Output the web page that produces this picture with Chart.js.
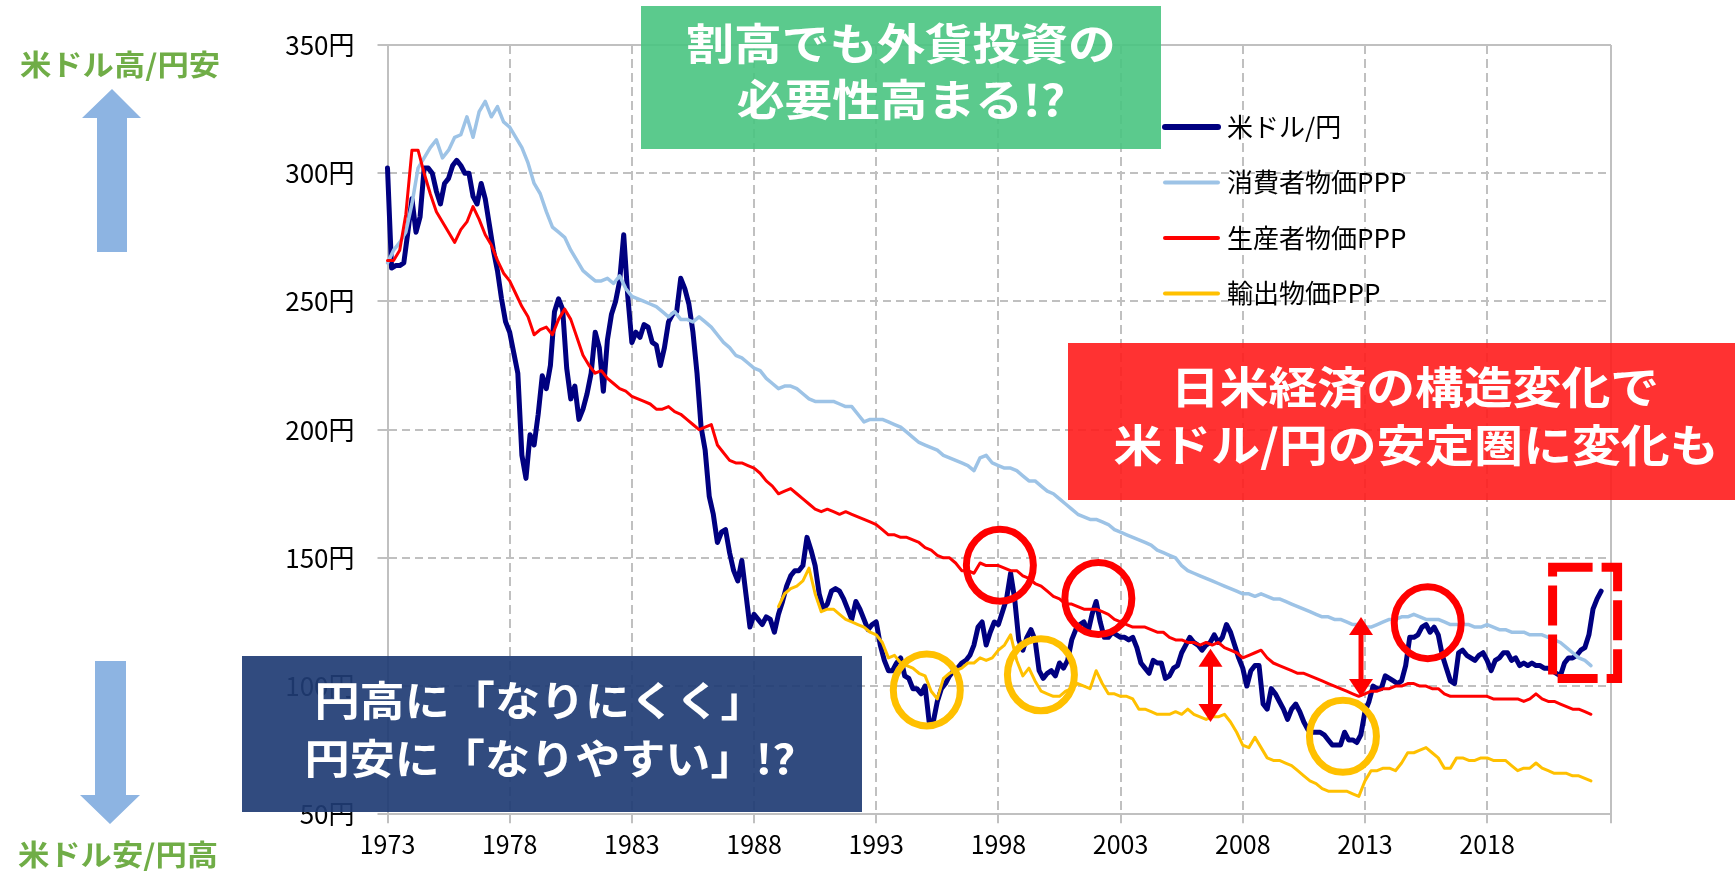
<!DOCTYPE html>
<html lang="ja">
<head>
<meta charset="utf-8">
<title>米ドル/円と購買力平価</title>
<script src="https://cdn.jsdelivr.net/npm/chart.js@4.4.1/dist/chart.umd.min.js"></script>
<style>
  html, body { margin: 0; padding: 0; background: #fff; }
  #wrap { position: relative; width: 1735px; height: 871px; }
</style>
</head>
<body>
<div id="wrap"><canvas id="ppp"></canvas></div>
<script>
// 目盛り
const xTicks = [1973, 1978, 1983, 1988, 1993, 1998, 2003, 2008, 2013, 2018];
const yTicks = [50, 100, 150, 200, 250, 300, 350];
const seriesNames = ['米ドル/円', '消費者物価PPP', '生産者物価PPP', '輸出物価PPP'];

// 米ドル/円 1973年1月から2か月ごと (1,3,5,7,9,11月)
const usdJpy = [
  302, 263, 264, 264, 265, 277,
  290, 277, 283, 302, 302, 300,
  293, 288, 296, 298, 303, 305,
  303, 300, 300, 291, 288, 296,
  290, 280, 270, 262, 251, 242,
  238, 230, 222, 190, 181, 198,
  194, 206, 221, 216, 225, 246,
  251, 247, 224, 212, 217, 204,
  208, 214, 222, 238, 232, 215,
  235, 245, 250, 258, 276, 252,
  234, 238, 236, 241, 240, 234,
  233, 225, 232, 242, 245, 246,
  259, 255, 249, 238, 222, 201,
  192, 174, 167, 156, 160, 161,
  152, 145, 141, 149, 136, 123,
  128, 126, 124, 127, 126, 121,
  128, 133, 139, 143, 145, 145,
  147, 158, 153, 147, 136, 130,
  132, 137, 138, 137, 134, 130,
  126, 133, 130, 126, 122, 124,
  125, 116, 110, 106, 106, 109,
  111, 104, 103, 99, 99, 97,
  100, 86, 86, 94, 99, 101,
  104, 106, 107, 109, 110, 112,
  116, 123, 125, 116, 121, 125,
  124, 129, 134, 144, 134, 118,
  114, 119, 122, 118, 106, 103,
  105, 106, 104, 109, 107, 110,
  118, 122, 124, 125, 121, 128,
  133, 125, 119, 119, 121, 120,
  119, 119, 118, 119, 115, 109,
  107, 105, 110, 109, 109, 103,
  104, 107, 108, 113, 116, 119,
  117, 116, 114, 116, 117, 120,
  117, 119, 124, 121, 116, 111,
  107, 100, 106, 108, 108, 93,
  91, 99, 97, 94, 91, 87,
  91, 93, 90, 86, 83, 82,
  82, 82, 81, 79, 77, 77,
  77, 82, 79, 79, 78, 81,
  90, 94, 100, 99, 99, 104,
  103, 102, 101, 102, 108, 119,
  119, 120, 123, 124, 121, 123,
  120, 112, 107, 102, 101, 113,
  114, 112, 111, 110, 112, 113,
  110, 106, 110, 111, 113, 113,
  110, 111, 108, 109, 108, 109,
  108, 108, 107, 107, 106, 105,
  104, 109, 111, 111, 112, 114,
  115, 120, 130, 134, 137
];

// 消費者物価PPP 1973年1月から四半期ごと
const cpiPpp = [
  265, 270, 273, 277,  288, 302, 306, 310,  313, 306, 309, 314,  315, 322, 314, 324,
  328, 322, 326, 320,  318, 314, 310, 304,  296, 292, 285, 279,  277, 275, 270, 266,
  262, 260, 258, 258,  259, 257, 260, 255,  252, 251, 250, 249,  248, 246, 244, 246,
  243, 243, 242, 244,  242, 240, 237, 234,  232, 229, 228, 226,  224, 223, 220, 218,
  216, 217, 217, 216,  214, 212, 211, 211,  211, 211, 210, 209,  209, 206, 203, 204,
  204, 204, 203, 202,  201, 199, 197, 195,  194, 193, 192, 190,  189, 188, 187, 186,
  184, 189, 190, 187,  186, 185, 185, 184,  182, 180, 180, 178,  176, 175, 173, 171,
  169, 167, 166, 165,  165, 164, 163, 161,  160, 159, 158, 157,  156, 155, 153, 152,
  151, 150, 147, 145,  144, 143, 142, 141,  140, 139, 138, 137,  136, 136, 135, 136,
  135, 134, 134, 133,  132, 131, 130, 129,  128, 127, 127, 126,  126, 125, 124, 124,
  123, 123, 124, 125,  126, 126, 127, 127,  128, 127, 126, 126,  126, 125, 124, 124,
  124, 124, 123, 123,  124, 123, 122, 122,  121, 121, 121, 120,  120, 120, 119, 118,
  117, 115, 113, 111,  110, 108
];

// 生産者物価PPP 1973年1月から四半期ごと
const ppiPpp = [
  266, 266, 270, 284,  309, 309, 300, 292,  285, 281, 277, 273,  278, 281, 287, 282,
  276, 272, 266, 261,  258, 253, 248, 244,  237, 239, 240, 237,  243, 247, 243, 236,
  229, 225, 222, 223,  220, 218, 216, 215,  213, 212, 211, 210,  208, 208, 209, 207,
  206, 204, 202, 200,  201, 202, 194, 191,  188, 187, 187, 186,  185, 183, 180, 178,
  175, 176, 177, 175,  173, 171, 169, 168,  169, 168, 167, 168,  167, 166, 165, 164,
  163, 161, 159, 159,  158, 158, 157, 156,  154, 153, 151, 150,  150, 148, 145, 145,
  144, 148, 147, 147,  147, 146, 145, 145,  143, 142, 140, 139,  137, 135, 134, 132,
  132, 131, 130, 130,  130, 129, 128, 126,  125, 124, 123, 123,  123, 122, 121, 121,
  119, 118, 118, 117,  117, 116, 117, 116,  117, 115, 114, 113,  111, 112, 113, 114,
  111, 109, 108, 107,  106, 105, 105, 104,  103, 102, 101, 100,  99, 98, 97, 96,
  97, 98, 98, 99,  99, 100, 100, 101,  101, 100, 100, 99,  99, 97, 96, 96,
  96, 96, 96, 96,  96, 95, 95, 95,  95, 95, 94, 95,  97, 95, 94, 94,
  93, 92, 91, 91,  90, 89
];

// 輸出物価PPP 1989年1月から四半期ごと
const exportPpp = [
  131, 136, 138, 139,  141, 146, 136, 129,  130, 130, 128, 126,  125, 124, 123, 121,
  120, 117, 111, 112,  109, 108, 107, 105,  104, 98, 95, 103,  105, 106, 107, 109,
  109, 111, 110, 111,  114, 116, 120, 110,  104, 107, 102, 98,  97, 96, 96, 98,
  99, 101, 100, 99,  106, 101, 97, 97,  96, 96, 95, 91,  91, 90, 89, 89,
  89, 90, 89, 91,  89, 88, 87, 88,  88, 89, 86, 82,  77, 76, 80, 76,
  72, 71, 71, 70,  69, 67, 65, 63,  62, 60, 59, 59,  59, 59, 58, 57,
  63, 67, 67, 68,  68, 67, 70, 74,  74, 75, 76, 74,  72, 68, 68, 72,
  72, 71, 71, 72,  72, 71, 71, 71,  69, 67, 68, 68,  70, 68, 67, 66,
  66, 66, 65, 65,  64, 63
];

const FONT = '"Noto Sans CJK JP", "Noto Sans", sans-serif';
const GRID = '#C0C0C0';

function toPoints(values, start, step) {
  return values.map((v, i) => ({ x: start + i * step, y: v }));
}

// 太字テキスト(少し横長)
function wideText(ctx, text, cx, cy, size, color, sx) {
  ctx.save();
  ctx.translate(cx, cy);
  ctx.scale(sx, 1);
  ctx.font = 'bold ' + size + 'px ' + FONT;
  ctx.fillStyle = color;
  ctx.textAlign = 'center';
  ctx.textBaseline = 'middle';
  ctx.fillText(text, 0, 0);
  ctx.restore();
}

function poly(ctx, pts, color) {
  ctx.beginPath();
  ctx.moveTo(pts[0][0], pts[0][1]);
  for (let i = 1; i < pts.length; i++) ctx.lineTo(pts[i][0], pts[i][1]);
  ctx.closePath();
  ctx.fillStyle = color;
  ctx.fill();
}

// 注目箇所 (年, 円)
const redRings = [[1998.06, 147.1], [2002.09, 134.2], [2015.57, 124.7]];
const goldRings = [[1995.07, 98.5], [1999.74, 104.4], [2012.1, 80.4]];
const gapArrows = [[2006.68, 114.6, 86.0], [2012.84, 126.9, 95.7]];
const recentBox = [2020.68, 146.3, 2023.34, 103.0];

const decor = {
  id: 'decor',
  afterDraw(chart) {
    const ctx = chart.ctx;
    const xs = chart.scales.x, ys = chart.scales.y, a = chart.chartArea;
    ctx.save();

    // 右枠
    ctx.strokeStyle = GRID;
    ctx.lineWidth = 2;
    ctx.beginPath();
    ctx.moveTo(a.right, a.top);
    ctx.lineTo(a.right, a.bottom + 9);
    ctx.stroke();

    // 凡例
    chart.data.datasets.forEach((ds, i) => {
      const y = 127 + i * 55.5;
      ctx.strokeStyle = ds.borderColor;
      ctx.lineWidth = i === 0 ? 6 : 4;
      ctx.lineCap = 'round';
      ctx.beginPath();
      ctx.moveTo(1165, y);
      ctx.lineTo(1218, y);
      ctx.stroke();
      ctx.font = '26px ' + FONT;
      ctx.fillStyle = '#000';
      ctx.textAlign = 'left';
      ctx.textBaseline = 'middle';
      ctx.fillText(ds.label, 1227, y);
    });

    // 丸
    ctx.lineWidth = 7;
    ctx.strokeStyle = '#FF0000';
    redRings.forEach(([t, v]) => {
      ctx.beginPath();
      ctx.ellipse(xs.getPixelForValue(t), ys.getPixelForValue(v), 33.5, 36, 0, 0, Math.PI * 2);
      ctx.stroke();
    });
    ctx.strokeStyle = '#FFC000';
    goldRings.forEach(([t, v]) => {
      ctx.beginPath();
      ctx.ellipse(xs.getPixelForValue(t), ys.getPixelForValue(v), 33.5, 36, 0, 0, Math.PI * 2);
      ctx.stroke();
    });

    // 両矢印
    gapArrows.forEach(([t, v1, v2]) => {
      const x = xs.getPixelForValue(t);
      const y1 = ys.getPixelForValue(v1), y2 = ys.getPixelForValue(v2);
      ctx.fillStyle = '#FF0000';
      ctx.fillRect(x - 2.5, y1 + 16, 5, y2 - y1 - 32);
      poly(ctx, [[x, y1], [x + 12, y1 + 18], [x - 12, y1 + 18]], '#FF0000');
      poly(ctx, [[x, y2], [x + 12, y2 - 18], [x - 12, y2 - 18]], '#FF0000');
    });

    // 点線の枠
    const bx1 = xs.getPixelForValue(recentBox[0]), by1 = ys.getPixelForValue(recentBox[1]);
    const bx2 = xs.getPixelForValue(recentBox[2]), by2 = ys.getPixelForValue(recentBox[3]);
    ctx.strokeStyle = '#FF0000';
    ctx.lineWidth = 9;
    ctx.lineCap = 'butt';
    ctx.setLineDash([40, 9]);
    ctx.strokeRect(bx1, by1, bx2 - bx1, by2 - by1);
    ctx.setLineDash([]);

    // 吹き出し
    ctx.fillStyle = 'rgba(73, 196, 129, 0.9)';
    ctx.fillRect(641, 6, 520, 143);
    wideText(ctx, '割高でも外貨投資の', 901, 44, 43, '#fff', 1.11);
    wideText(ctx, '必要性高まる!?', 901, 100, 43, '#fff', 1.11);

    ctx.fillStyle = 'rgba(255, 28, 28, 0.9)';
    ctx.fillRect(1068, 343, 680, 157);
    wideText(ctx, '日米経済の構造変化で', 1415, 387, 44, '#fff', 1.11);
    wideText(ctx, '米ドル/円の安定圏に変化も', 1416, 445, 44, '#fff', 1.11);

    ctx.fillStyle = 'rgba(32, 60, 116, 0.92)';
    ctx.fillRect(242, 656, 620, 156);
    wideText(ctx, '円高に「なりにくく」', 540, 700, 41, '#fff', 1.1);
    wideText(ctx, '円安に「なりやすい」!?', 550, 758, 41, '#fff', 1.1);

    // 左の矢印と説明
    poly(ctx, [[112, 89], [141, 118], [127, 118], [127, 252], [97, 252], [97, 118], [82, 118]], '#8DB4E2');
    poly(ctx, [[95, 661], [126, 661], [126, 795], [140, 795], [110, 824], [80, 795], [95, 795]], '#8DB4E2');
    wideText(ctx, '米ドル高/円安', 120, 65, 29, '#70AD47', 1.08);
    wideText(ctx, '米ドル安/円高', 118, 855, 29, '#70AD47', 1.08);

    ctx.restore();
  }
};

new Chart(document.getElementById('ppp'), {
  type: 'line',
  data: {
    datasets: [
      { label: seriesNames[0], data: toPoints(usdJpy, 1973, 1 / 6), borderColor: '#000080', borderWidth: 5, order: 4, clip: false },
      { label: seriesNames[1], data: toPoints(cpiPpp, 1973, 0.25), borderColor: '#9DC3E6', borderWidth: 3.5, order: 3, clip: false },
      { label: seriesNames[2], data: toPoints(ppiPpp, 1973, 0.25), borderColor: '#FF0000', borderWidth: 3, order: 2, clip: false },
      { label: seriesNames[3], data: toPoints(exportPpp, 1989, 0.25), borderColor: '#FFC000', borderWidth: 3, order: 1, clip: false }
    ]
  },
  options: {
    responsive: true,
    maintainAspectRatio: false,
    animation: false,
    layout: { padding: { left: 0, right: 124, top: 45, bottom: 0 } },
    elements: {
      point: { radius: 0 },
      line: { tension: 0, borderJoinStyle: 'round', borderCapStyle: 'round', fill: false }
    },
    plugins: { legend: { display: false }, tooltip: { enabled: false } },
    scales: {
      x: {
        type: 'linear',
        min: 1973,
        max: 2023.07,
        afterBuildTicks: (axis) => { axis.ticks = xTicks.map(v => ({ value: v })); },
        afterFit: (s) => { s.height = 56.7; },
        grid: { color: GRID, lineWidth: 2, tickLength: 9, tickColor: GRID, tickWidth: 2 },
        border: { color: GRID, width: 2, dash: [9, 5] },
        ticks: {
          autoSkip: false, maxRotation: 0, padding: 6, color: '#000',
          font: { family: FONT, size: 25 },
          callback: (v) => String(v)
        }
      },
      y: {
        min: 50,
        max: 350,
        afterBuildTicks: (axis) => { axis.ticks = yTicks.map(v => ({ value: v })); },
        afterFit: (s) => { s.width = 387.5; },
        grid: { color: GRID, lineWidth: 2, tickLength: 10, tickColor: GRID, tickWidth: 2 },
        border: {
          color: GRID, width: 2,
          dash: (c) => (c.tick && c.tick.value === 350 ? [] : [8, 5])
        },
        ticks: {
          padding: 23, color: '#000',
          font: { family: FONT, size: 26 },
          callback: (v) => v + '円'
        }
      }
    }
  },
  plugins: [decor]
});
</script>
</body>
</html>
